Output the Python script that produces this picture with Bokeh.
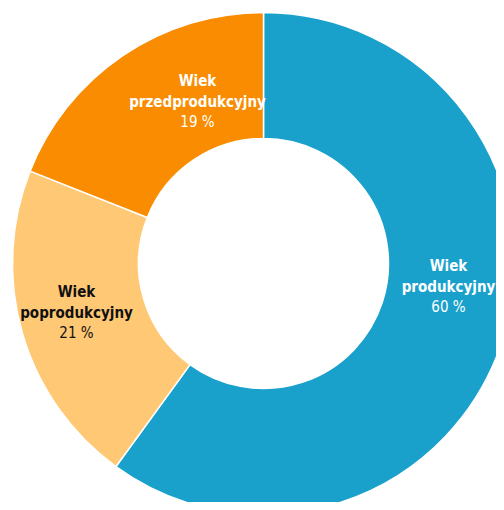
import math
from bokeh.plotting import figure
from bokeh.models import ColumnDataSource
from bokeh.core.properties import value
from bokeh.embed import file_html
from bokeh.resources import INLINE

# data
categories = ["produkcyjny", "poprodukcyjny", "przedprodukcyjny"]
shares = [60, 21, 19]
colors = ["#19A1CC", "#FFC874", "#F98C00"]
text_colors = ["#FFFFFF", "#111111", "#FFFFFF"]

W, H = 496, 502
cx, cy = 263, 239
r_out, r_in = 251, 125

p = figure(width=W, height=H, x_range=(0, W), y_range=(0, H),
           output_backend="svg", toolbar_location=None,
           min_border=0, outline_line_color=None)
p.axis.visible = False
p.grid.visible = False
p.background_fill_color = "white"

total = sum(shares)
starts, ends = [], []
a = math.pi / 2
for s in shares:
    starts.append(a)
    a -= s / total * 2 * math.pi
    ends.append(a)

src = ColumnDataSource(dict(start=starts, end=ends, color=colors,
                            x=[cx] * 3, y=[cy] * 3))
p.annular_wedge(x="x", y="y", inner_radius=r_in, outer_radius=r_out,
                start_angle="start", end_angle="end", direction="clock",
                fill_color="color", line_color="white", line_width=1.5,
                source=src)

# label anchors (centre of middle line), layout only
lab_x = [448, 76, 197]
lab_y = [216, 190, 401]
lh = 21

font = value("DejaVu Sans Condensed")
for i, c in enumerate(categories):
    p.text(x=[lab_x[i]], y=[lab_y[i] + lh], text=["Wiek"], text_align="center",
           text_baseline="middle", text_font=font, text_font_style="bold",
           text_font_size="15px", text_color=text_colors[i])
    p.text(x=[lab_x[i]], y=[lab_y[i]], text=[c],
           text_align="center", text_baseline="middle", text_font=font,
           text_font_style="bold", text_font_size="15px",
           text_color=text_colors[i])
    p.text(x=[lab_x[i]], y=[lab_y[i] - lh + 1], text=[f"{shares[i]} %"],
           text_align="center", text_baseline="middle", text_font=font,
           text_font_size="15px", text_color=text_colors[i])

open("out.html", "w").write(file_html(p, INLINE))
